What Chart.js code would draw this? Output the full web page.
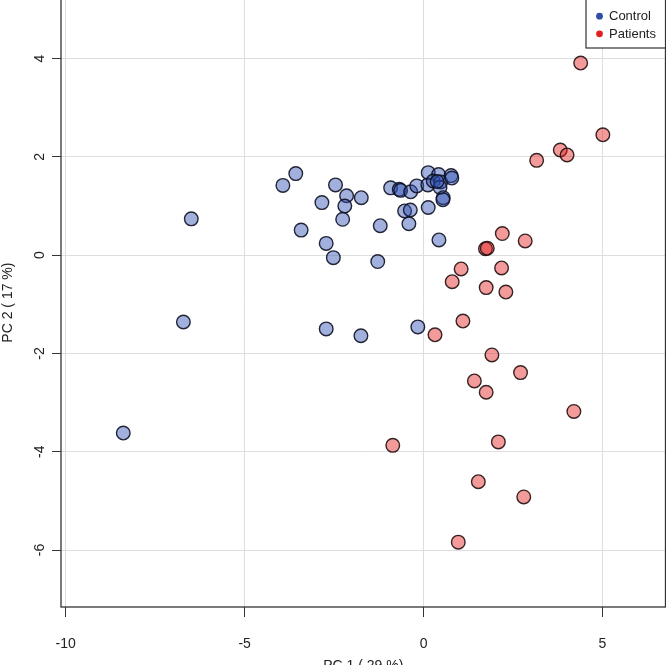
<!DOCTYPE html>
<html>
<head>
<meta charset="utf-8">
<script src="https://cdn.jsdelivr.net/npm/chart.js@4/dist/chart.umd.min.js"></script>
<style>
  html, body { margin: 0; padding: 0; background: #fff; overflow: hidden; width: 666px; height: 665px; }
  #pca { position: absolute; left: 0; top: -10px; }
</style>
</head>
<body>
<canvas id="pca" width="680" height="690"></canvas>
<script>
// PCA scores
const controlX = [-8.39, -6.71, -6.49, -3.57, -3.93, -2.46, -2.15, -1.74, -2.84, -2.20, -2.26, -3.42, -1.21, -2.72, -2.52, -1.28, -2.72, -1.75, -0.16,
    -0.92, -0.68, -0.64, -0.36, -0.19, 0.13, 0.12, 0.42, 0.27, 0.48, 0.46, 0.77, 0.79, 0.55, 0.54, -0.53, -0.37, -0.41, 0.13, 0.43, 0.38];
const controlY = [-3.62, -1.36, 0.74, 1.66, 1.42, 1.43, 1.21, 1.17, 1.07, 1.00, 0.73, 0.51, 0.60, 0.24, -0.05, -0.13, -1.50, -1.64, -1.46,
    1.37, 1.34, 1.32, 1.29, 1.41, 1.68, 1.43, 1.64, 1.51, 1.49, 1.38, 1.62, 1.57, 1.17, 1.13, 0.90, 0.92, 0.64, 0.97, 0.31, 1.50];

const patientX = [4.39, 5.01, 3.82, 4.01, 3.16, 2.20, 2.84, 1.73, 1.78, 1.05, 2.18, 0.80, 1.75, 2.30, 1.10, 0.32, 1.91, 2.71, 1.42, 1.75,
    4.20, -0.86, 2.09, 1.53, 2.80, 0.97];
const patientY = [3.91, 2.45, 2.14, 2.04, 1.93, 0.44, 0.29, 0.13, 0.14, -0.28, -0.26, -0.54, -0.66, -0.75, -1.34, -1.62, -2.03, -2.39, -2.56, -2.79,
    -3.18, -3.87, -3.80, -4.61, -4.92, -5.84];

const xTicks = [-10, -5, 0, 5];
const yTicks = [-6, -4, -2, 0, 2, 4];
const groupNames = ['Control', 'Patients'];

const FONT = '"Liberation Sans", Arial, sans-serif';

function toPoints(xs, ys) {
    return xs.map((x, i) => ({ x: x, y: ys[i] }));
}

// box round the plot region, like R's box()
const framePlugin = {
    id: 'frame',
    afterDatasetsDraw(chart) {
        const a = chart.chartArea;
        const ctx = chart.ctx;
        ctx.save();
        ctx.strokeStyle = '#333';
        ctx.lineWidth = 1.3;
        ctx.strokeRect(a.left, a.top, a.right - a.left, a.bottom - a.top);
        ctx.restore();
    }
};

// legend in the top right corner
const cornerLegend = {
    id: 'cornerLegend',
    afterDraw(chart) {
        const a = chart.chartArea;
        const ctx = chart.ctx;
        const left = 586, bottom = 58;
        ctx.save();
        ctx.fillStyle = '#fff';
        ctx.fillRect(left, a.top, a.right - left, bottom - a.top);
        ctx.strokeStyle = '#333';
        ctx.lineWidth = 1.2;
        ctx.strokeRect(left, a.top, a.right - left, bottom - a.top);
        const rows = [26.2, 43.8];
        const dots = ['#2f4fa6', '#e0201f'];
        ctx.font = '13px ' + FONT;
        ctx.textBaseline = 'middle';
        ctx.textAlign = 'left';
        chart.data.datasets.forEach((ds, i) => {
            ctx.beginPath();
            ctx.arc(599.5, rows[i], 3.4, 0, Math.PI * 2);
            ctx.fillStyle = dots[i];
            ctx.fill();
            ctx.fillStyle = '#222';
            ctx.fillText(ds.label, 609, rows[i] + 0.5);
        });
        ctx.restore();
    }
};

const ctx = document.getElementById('pca').getContext('2d');

const chart = new Chart(ctx, {
    type: 'scatter',
    data: {
        datasets: [{
            label: groupNames[0],
            data: toPoints(controlX, controlY),
            backgroundColor: 'rgba(46, 80, 180, 0.45)',
            borderColor: 'rgba(15, 18, 35, 0.9)',
            borderWidth: 1.4,
            pointRadius: 6.8,
            pointHoverRadius: 6.8
        }, {
            label: groupNames[1],
            data: toPoints(patientX, patientY),
            backgroundColor: 'rgba(228, 30, 32, 0.45)',
            borderColor: 'rgba(35, 15, 15, 0.9)',
            borderWidth: 1.4,
            pointRadius: 6.8,
            pointHoverRadius: 6.8
        }]
    },
    options: {
        responsive: false,
        animation: false,
        events: [],
        layout: { padding: { top: 4, right: 14.5, left: 0, bottom: 0 } },
        plugins: {
            legend: { display: false },
            tooltip: { enabled: false }
        },
        scales: {
            x: {
                type: 'linear',
                min: -10.13,
                max: 6.76,
                afterBuildTicks: (scale) => { scale.ticks = xTicks.map(v => ({ value: v })); },
                afterFit: (scale) => {
                    scale.height = 73;
                    scale.paddingLeft = 0;
                    scale.paddingRight = 0;
                },
                grid: { color: '#dedede', lineWidth: 1, tickColor: '#333', tickLength: 10 },
                border: { display: false },
                ticks: {
                    color: '#222',
                    font: { family: FONT, size: 14 },
                    padding: 19,
                    maxRotation: 0,
                    callback: (v) => String(v)
                },
                title: {
                    display: true,
                    text: 'PC 1 ( 29 %)',
                    color: '#222',
                    font: { family: FONT, size: 14 },
                    padding: { top: 0, bottom: 5 }
                }
            },
            y: {
                type: 'linear',
                min: -7.16,
                max: 5.23,
                afterBuildTicks: (scale) => { scale.ticks = yTicks.map(v => ({ value: v })); },
                afterFit: (scale) => {
                    scale.width = 61;
                    scale.paddingTop = 0;
                    scale.paddingBottom = 0;
                },
                grid: { color: '#dedede', lineWidth: 1, tickColor: '#333', tickLength: 9 },
                border: { display: false },
                ticks: {
                    color: '#222',
                    font: { family: FONT, size: 14 },
                    padding: 6,
                    minRotation: 90,
                    maxRotation: 90,
                    crossAlign: 'center',
                    callback: (v) => String(v)
                },
                title: {
                    display: true,
                    text: 'PC 2 ( 17 %)',
                    color: '#222',
                    font: { family: FONT, size: 14 },
                    padding: { top: 0, bottom: 0 }
                }
            }
        }
    },
    plugins: [framePlugin, cornerLegend]
});
</script>
</body>
</html>
